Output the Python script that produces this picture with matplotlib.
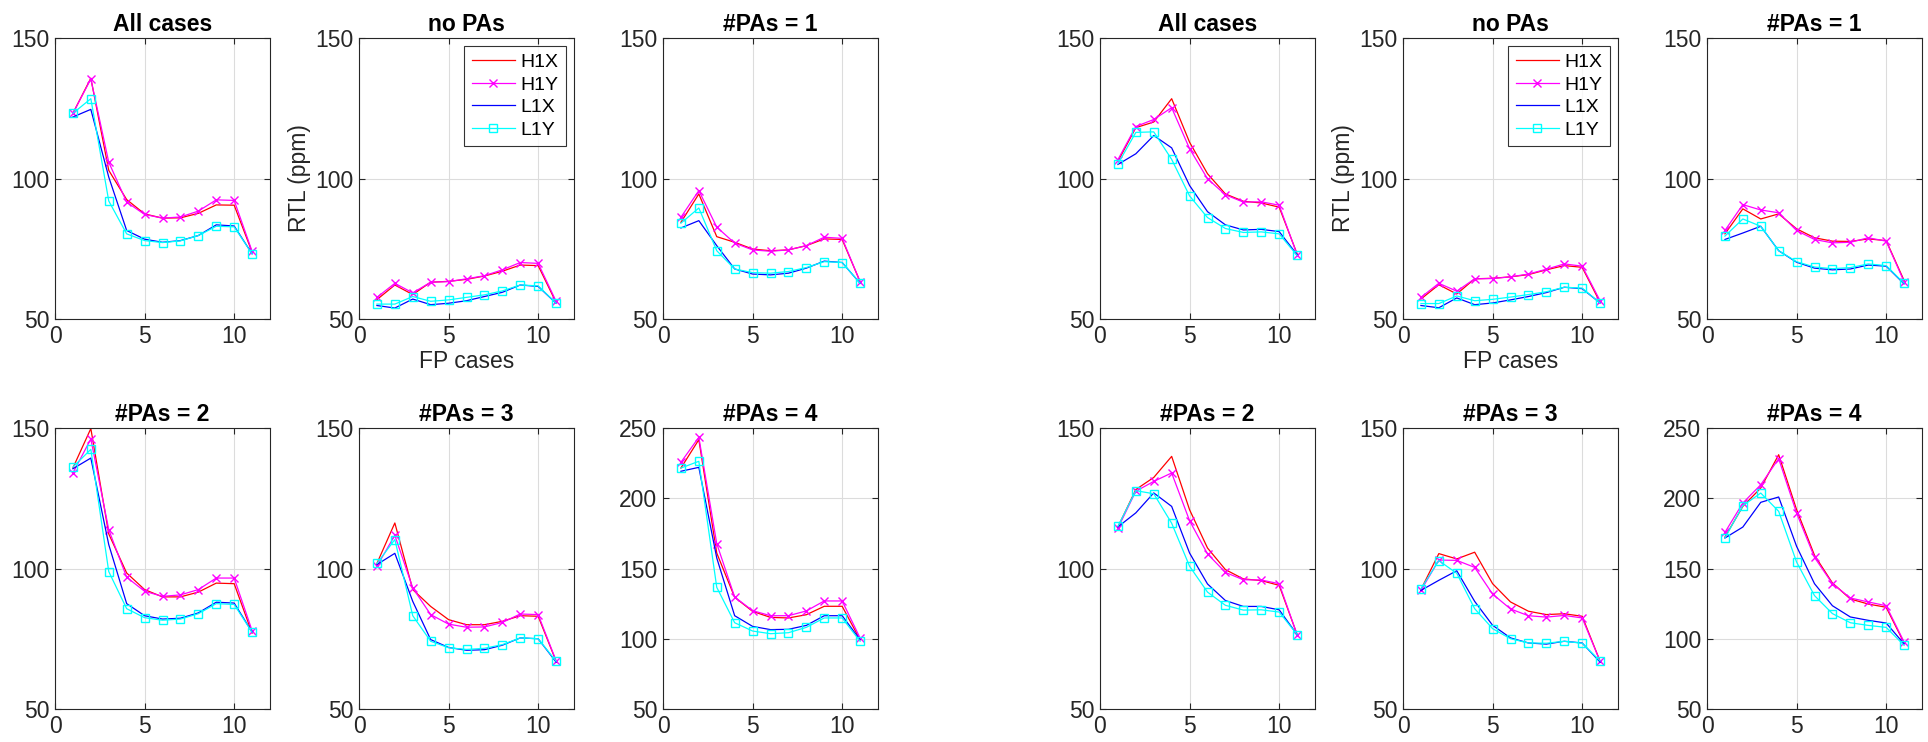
import matplotlib
matplotlib.use('Agg')
import matplotlib.pyplot as plt

plt.rcParams['font.family'] = ['Liberation Sans', 'DejaVu Sans']

fp_cases = list(range(1, 12))
series_names = ['H1X', 'H1Y', 'L1X', 'L1Y']
panel_titles = ['All cases', 'no PAs', '#PAs = 1', '#PAs = 2', '#PAs = 3', '#PAs = 4']

# left group of panels
left_all_h1x = [123.2, 135.7, 102.9, 92.5, 87.4, 85.9, 86.0, 87.6, 90.6, 90.5, 73.8]
left_all_h1y = [123.2, 135.4, 105.8, 91.6, 87.2, 85.9, 86.3, 88.4, 92.4, 92.2, 74.1]
left_all_l1x = [121.9, 124.6, 100.5, 81.5, 78.4, 77.3, 77.9, 79.7, 83.5, 83.1, 73.2]
left_all_l1y = [123.2, 128.4, 92.0, 80.3, 77.9, 77.2, 77.8, 79.7, 83.0, 82.8, 73.2]

left_pa0_h1x = [56.9, 62.1, 58.7, 63.1, 63.4, 64.1, 65.3, 67.0, 69.2, 69.0, 55.9]
left_pa0_h1y = [57.7, 62.7, 59.3, 63.1, 63.3, 64.3, 65.4, 67.5, 70.1, 69.8, 56.3]
left_pa0_l1x = [54.8, 53.9, 57.1, 55.1, 55.6, 56.5, 58.0, 59.5, 62.1, 61.6, 55.6]
left_pa0_l1y = [55.3, 55.3, 58.0, 56.3, 56.8, 57.7, 58.6, 60.0, 62.1, 61.8, 55.6]

left_pa1_h1x = [84.4, 94.5, 79.3, 77.3, 74.9, 74.3, 74.6, 76.1, 78.5, 78.3, 63.3]
left_pa1_h1y = [86.2, 95.7, 82.7, 77.0, 74.6, 74.1, 74.6, 76.1, 79.1, 78.7, 63.3]
left_pa1_l1x = [82.4, 85.0, 76.1, 67.8, 66.0, 65.7, 66.3, 68.1, 70.6, 70.1, 62.7]
left_pa1_l1y = [84.1, 89.5, 74.3, 67.8, 66.5, 66.3, 66.9, 68.3, 70.4, 70.1, 62.7]

left_pa2_h1x = [135.8, 149.8, 112.3, 98.4, 92.5, 89.9, 89.9, 91.6, 94.8, 94.6, 77.0]
left_pa2_h1y = [134.0, 146.1, 113.8, 96.9, 91.9, 90.1, 90.6, 92.5, 96.6, 96.6, 77.9]
left_pa2_l1x = [135.5, 139.3, 108.5, 87.5, 83.2, 82.0, 82.3, 84.2, 88.0, 87.7, 77.4]
left_pa2_l1y = [136.1, 142.4, 98.9, 85.7, 82.5, 81.6, 82.0, 83.9, 87.5, 87.2, 77.3]

left_pa3_h1x = [101.8, 116.2, 92.5, 86.5, 81.8, 80.0, 80.0, 81.2, 83.2, 83.0, 67.0]
left_pa3_h1y = [100.8, 111.8, 93.1, 83.6, 80.2, 79.1, 79.2, 80.8, 83.8, 83.6, 67.2]
left_pa3_l1x = [101.4, 105.4, 88.3, 74.7, 71.9, 70.9, 71.1, 72.7, 75.3, 75.0, 66.7]
left_pa3_l1y = [101.8, 110.3, 83.2, 74.1, 71.8, 71.2, 71.6, 72.9, 75.3, 75.0, 67.0]

left_pa4_h1x = [221.5, 241.7, 161.0, 129.5, 119.5, 115.2, 114.8, 117.1, 123.1, 123.1, 99.3]
left_pa4_h1y = [225.6, 243.4, 167.7, 129.7, 120.0, 116.4, 116.4, 119.8, 126.9, 126.9, 100.5]
left_pa4_l1x = [219.2, 222.0, 157.5, 116.4, 108.8, 106.5, 106.7, 109.5, 116.4, 116.4, 99.3]
left_pa4_l1y = [221.5, 226.3, 136.6, 111.4, 105.5, 103.6, 104.3, 108.1, 114.8, 114.8, 98.2]

# right group of panels
right_all_h1x = [106.1, 118.1, 120.1, 128.4, 112.9, 101.7, 94.5, 91.9, 91.3, 89.8, 73.2]
right_all_h1y = [106.7, 118.5, 121.0, 125.2, 110.6, 99.9, 94.2, 91.6, 91.7, 90.5, 72.9]
right_all_l1x = [105.0, 108.8, 115.3, 110.9, 97.5, 88.2, 83.5, 81.7, 81.9, 81.1, 72.9]
right_all_l1y = [105.2, 116.4, 116.6, 106.8, 93.8, 86.1, 82.2, 80.8, 81.0, 80.3, 72.6]

right_pa0_h1x = [57.1, 62.2, 58.9, 64.3, 64.5, 65.0, 65.8, 67.5, 69.0, 68.4, 55.9]
right_pa0_h1y = [57.7, 62.7, 59.9, 64.3, 64.4, 65.0, 66.0, 67.7, 69.6, 68.8, 56.5]
right_pa0_l1x = [54.8, 54.0, 57.5, 55.1, 55.7, 56.8, 58.0, 59.4, 61.3, 60.8, 55.7]
right_pa0_l1y = [55.5, 55.5, 58.2, 56.5, 57.0, 57.8, 58.7, 59.7, 61.3, 61.0, 55.7]

right_pa1_h1x = [80.3, 89.2, 85.6, 87.4, 82.1, 78.9, 77.7, 77.6, 78.5, 77.9, 63.7]
right_pa1_h1y = [81.5, 90.7, 88.8, 87.8, 81.5, 78.3, 77.1, 77.3, 78.9, 77.7, 63.3]
right_pa1_l1x = [78.3, 80.6, 83.0, 74.3, 70.2, 68.1, 67.5, 67.8, 69.2, 68.8, 62.5]
right_pa1_l1y = [79.5, 85.6, 83.0, 74.3, 70.4, 68.5, 67.9, 68.3, 69.6, 69.0, 62.7]

right_pa2_h1x = [114.8, 128.1, 132.4, 139.9, 120.9, 107.3, 99.6, 96.3, 95.7, 94.0, 76.5]
right_pa2_h1y = [114.4, 127.5, 131.0, 134.0, 117.0, 105.2, 98.6, 96.0, 95.9, 94.6, 76.5]
right_pa2_l1x = [114.8, 119.8, 126.9, 122.1, 105.5, 94.5, 88.6, 86.5, 86.5, 85.3, 76.5]
right_pa2_l1y = [115.0, 127.7, 126.6, 116.1, 100.8, 91.6, 86.9, 85.2, 85.3, 84.5, 76.5]

right_pa3_h1x = [92.5, 105.3, 103.4, 105.8, 94.6, 88.1, 84.8, 83.6, 83.9, 83.0, 67.0]
right_pa3_h1y = [92.2, 103.0, 102.9, 100.4, 90.9, 85.6, 83.2, 82.7, 83.3, 82.4, 67.0]
right_pa3_l1x = [92.2, 95.8, 99.2, 88.3, 79.8, 75.3, 73.5, 73.1, 74.1, 73.5, 66.7]
right_pa3_l1y = [92.8, 102.8, 98.3, 85.7, 78.6, 75.0, 73.5, 73.4, 74.1, 73.4, 67.1]

right_pa4_h1x = [172.4, 194.2, 207.3, 231.0, 191.9, 159.4, 139.7, 128.3, 124.7, 122.4, 97.0]
right_pa4_h1y = [175.7, 196.6, 209.6, 228.2, 189.5, 157.9, 139.2, 129.0, 126.2, 123.5, 97.7]
right_pa4_l1x = [171.7, 179.5, 197.1, 200.9, 165.8, 139.2, 123.5, 115.5, 113.1, 111.2, 96.3]
right_pa4_l1y = [171.7, 194.7, 203.7, 190.7, 154.6, 130.7, 117.9, 111.4, 109.5, 108.1, 95.3]

left_panels = [
    (left_all_h1x, left_all_h1y, left_all_l1x, left_all_l1y),
    (left_pa0_h1x, left_pa0_h1y, left_pa0_l1x, left_pa0_l1y),
    (left_pa1_h1x, left_pa1_h1y, left_pa1_l1x, left_pa1_l1y),
    (left_pa2_h1x, left_pa2_h1y, left_pa2_l1x, left_pa2_l1y),
    (left_pa3_h1x, left_pa3_h1y, left_pa3_l1x, left_pa3_l1y),
    (left_pa4_h1x, left_pa4_h1y, left_pa4_l1x, left_pa4_l1y),
]
right_panels = [
    (right_all_h1x, right_all_h1y, right_all_l1x, right_all_l1y),
    (right_pa0_h1x, right_pa0_h1y, right_pa0_l1x, right_pa0_l1y),
    (right_pa1_h1x, right_pa1_h1y, right_pa1_l1x, right_pa1_l1y),
    (right_pa2_h1x, right_pa2_h1y, right_pa2_l1x, right_pa2_l1y),
    (right_pa3_h1x, right_pa3_h1y, right_pa3_l1x, right_pa3_l1y),
    (right_pa4_h1x, right_pa4_h1y, right_pa4_l1x, right_pa4_l1y),
]

styles = [
    dict(color='#ff0000', marker=None),
    dict(color='#ff00ff', marker='x', markersize=6, markeredgewidth=1.0),
    dict(color='#0000ff', marker=None),
    dict(color='#00ffff', marker='s', markersize=6, markerfacecolor='none', markeredgewidth=1.0),
]

fig = plt.figure(figsize=(19.28, 7.42), dpi=100)

W, H = 1928.0, 742.0
col_left = [[55, 359, 663], [1100, 1403, 1707]]
row_top = [38, 428]
ax_w, ax_h = 215, 281

axis_color = '#262626'

for g, panels in enumerate([left_panels, right_panels]):
    for i, data in enumerate(panels):
        r, c = divmod(i, 3)
        x0 = col_left[g][c] / W
        y0 = 1 - (row_top[r] + ax_h) / H
        ax = fig.add_axes([x0, y0, ax_w / W, ax_h / H])
        for name, vals, st in zip(series_names, data, styles):
            ax.plot(fp_cases, vals, linewidth=0.9, label=name, **st)

        ax.set_xlim(0, 12)
        ax.set_xticks([0, 5, 10])
        if i == 5:
            ax.set_ylim(50, 250)
            ax.set_yticks([50, 100, 150, 200, 250])
        else:
            ax.set_ylim(50, 150)
            ax.set_yticks([50, 100, 150])

        ax.grid(True, color='#dcdcdc', linewidth=0.8)
        ax.set_axisbelow(True)
        ax.tick_params(direction='in', length=4, width=0.8, colors=axis_color,
                       labelsize=16.5, top=True, right=True, pad=4)
        for sp in ax.spines.values():
            sp.set_color(axis_color)
            sp.set_linewidth(0.8)
        ax.set_title(panel_titles[i], fontsize=16.5, fontweight='bold', pad=5)

        if i == 1:
            ax.set_xlabel('FP cases', fontsize=16.5, color=axis_color, labelpad=2)
            ax.set_ylabel('RTL (ppm)', fontsize=16.5, color=axis_color, labelpad=3)
            leg = ax.legend(loc='upper right', fontsize=14, frameon=True, fancybox=False,
                            handlelength=2.2, borderpad=0.4, labelspacing=0.25,
                            handletextpad=0.3, borderaxespad=0.4)
            leg.get_frame().set_edgecolor('black')
            leg.get_frame().set_linewidth(0.8)

fig.savefig('out.png', dpi=100, facecolor='white')
